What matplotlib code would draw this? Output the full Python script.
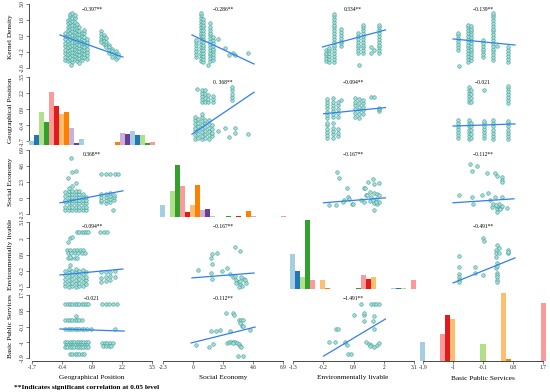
import matplotlib
matplotlib.use("Agg")
import matplotlib.pyplot as plt

plt.rcParams['font.family'] = ['Liberation Serif', 'DejaVu Serif']

# variable names (rows: y, columns: x)
row_names = ['Kernel Density', 'Geographical Position', 'Social Economy',
             'Environmentally livable', 'Basic Public Services']
col_names = ['Geographical Position', 'Social Economy',
             'Environmentally livable', 'Basic Public Services']

# axis ranges and ticks
col_lims = [(-1.83, 3.63), (-2.53, 7.13), (-1.41, 3.17), (-1.99, 1.79)]
col_ticks = [[-1.7, -0.4, 0.9, 2.2, 3.5], [-2.3, 0, 2.3, 4.6, 6.9],
             [-1.3, -0.2, 0.9, 2, 3.1], [-1.9, -1, -0.1, 0.8, 1.7]]
col_ticklabels = [['-1.7', '-0.4', '0.9', '2.2', '3.5'], ['-2.3', '0', '2.3', '4.6', '6.9'],
                  ['-1.3', '-0.2', '0.9', '2', '3.1'], ['-1.9', '-1', '-0.1', '0.8', '1.7']]
row_lims = [(-2.95, 3.17), (-2.0, 3.65), (-2.7, 7.3), (-1.43, 3.3), (-2.07, 1.93)]
row_ticks = [[-2.6, -1.2, 0.2, 1.6, 3.0], [-1.7, -0.4, 0.9, 2.2, 3.5], [-2.3, 0, 2.3, 4.6, 6.9],
             [-1.3, -0.2, 0.9, 2, 3.1], [-1.9, -1, -0.1, 0.8, 1.7]]
row_ticklabels = [['-2.6', '-1.2', '0.2', '1.6', '3.0'], ['-1.7', '-0.4', '0.9', '2.2', '3.5'],
                  ['-2.3', '0', '2.3', '4.6', '6.9'], ['-1.3', '-0.2', '0.9', '2', '3.1'],
                  ['-1.9', '-1', '-0.1', '0.8', '1.7']]

# histogram counts on the diagonal (25 bins across each column range)
geo_counts = [4, 10, 33, 23, 53, 39, 31, 33, 17, 2, 6, 0, 0, 0, 0, 0, 0, 3, 12, 11, 14, 10, 10, 2, 3]
soc_counts = [12, 0, 26, 52, 31, 5, 12, 32, 7, 8, 1, 0, 0, 1, 0, 1, 0, 6, 1, 0, 0, 0, 0, 0, 1]
env_counts = [35, 18, 12, 69, 9, 0, 9, 1, 0, 0, 0, 0, 0, 1, 14, 10, 12, 0, 0, 0, 1, 1, 1, 0, 9]
bps_counts = [19, 0, 0, 0, 27, 46, 42, 0, 0, 0, 0, 0, 17, 0, 0, 0, 68, 2, 0, 0, 0, 0, 0, 0, 58]
hist_counts = [geo_counts, soc_counts, env_counts, bps_counts]
paired10 = ['#a6cee3', '#1f78b4', '#b2df8a', '#33a02c', '#fb9a99',
            '#e31a1c', '#fdbf6f', '#ff7f00', '#cab2d6', '#6a3d9a']

# scatter groups: (x, [ys]) vertical runs, ([xs], y) horizontal runs, or (x, y)
kd_geo = [(-0.25, [-1.9, -1.6, -1.3, -1.0, -0.7, -0.4, -0.1, 0.2, 0.5]),
          (-0.15, [-2.0, -1.7, -1.4, -1.1, -0.8, -0.5, -0.2, 0.1, 0.4, 0.7, 1.0, 1.3, 1.6]),
          (-0.05, [-1.9, -1.6, -1.3, -1.0, -0.7, -0.4, -0.1, 0.2, 0.5, 0.8, 1.1, 1.4, 1.7, 1.95, 2.1]),
          (0.05, [-2.1, -1.8, -1.5, -1.2, -0.9, -0.6, -0.3, 0.0, 0.3, 0.6, 0.9, 1.2, 1.5, 1.8, 2.2]),
          (0.15, [-1.85, -1.55, -1.25, -0.95, -0.65, -0.35, -0.05, 0.25, 0.55, 0.85, 1.15, 1.45, 1.75, 2.0]),
          (0.25, [-2.0, -1.7, -1.4, -1.1, -0.8, -0.5, -0.2, 0.1, 0.4, 0.7, 1.0, 1.25]),
          (0.35, [-1.75, -1.45, -1.15, -0.85, -0.55, -0.25, 0.05, 0.35, 0.65, 0.95]),
          (0.45, [-1.9, -1.6, -1.3, -1.0, -0.7, -0.4, -0.1, 0.2, 0.5]),
          (0.57, [-1.65, -1.35, -1.05, -0.75, -0.45, -0.15, 0.15, 0.45, 0.7]),
          (0.68, [-1.8, -1.5, -1.2, -0.9, -0.6, -0.3, -0.05]),
          (1.28, [0.6, 0.35, 0.1, -0.15, -0.35]), (1.4, [0.3, 0.05, -0.25, -0.5]),
          (1.52, [0.0, -0.3, -0.55, -0.8]), (1.64, [-0.55, -0.8, -1.05, -1.25]),
          (1.78, [-0.9, -1.15, -1.4, -1.65]), (1.92, [-1.15, -1.4, -1.6, -1.8]),
          (2.02, [-1.4, -1.6]), (0.0, -2.35), (0.35, -2.2)]
kd_soc = [(0.23, [-1.6, -1.35, -1.1, -0.85, -0.6, -0.35, -0.15]),
          (0.62, [-2.0, -1.75, -1.5, -1.25, -1.0, -0.75, -0.5, -0.25, 0.0, 0.25, 0.5, 0.75, 1.0, 1.25, 1.5, 1.75, 2.0, 2.2]),
          (0.8, [-2.05, -1.8, -1.55, -1.3, -1.05, -0.8, -0.55, -0.3, -0.05, 0.2, 0.45, 0.7, 0.95, 1.2, 1.45, 1.7]),
          (1.3, [-2.0, -1.75, -1.5, -1.25, -1.0, -0.75, -0.5, -0.25, 0.0, 0.25, 0.5, 0.75, 1.0, 1.3]),
          (1.5, [-1.9, -1.65, -1.4, -1.15, -0.9, -0.65, -0.4, -0.15, 0.1]),
          (1.15, -2.35), (1.92, -0.06), (2.45, -0.85), (2.76, -1.46),
          (3.05, -1.29), (3.2, -1.46), (4.22, -1.29)]
kd_env = [(-0.1, [-2.0, -1.75, -1.5, -1.25, -1.0]), (0.02, [-2.05, -1.8, -1.55, -1.3, -1.05, -0.85]),
          (0.2, [-2.05, -1.8, -1.55, -1.3, -1.05, -0.8, -0.55, -0.3, -0.05, 0.2, 0.45, 0.7, 0.95, 1.2, 1.45, 1.7, 1.95, 2.15]),
          (0.44, [-0.7, -0.45, -0.2, 0.05, 0.3, 0.55, 0.8]),
          (1.05, [-1.3, -1.05, -0.8, -0.55, -0.3, -0.05, 0.2, 0.45]),
          (1.25, [-1.3, -1.05, -0.8, -0.55, -0.3, -0.05, 0.2, 0.45, 0.7, 0.95, 1.15]),
          (1.55, [-0.8, -1.25]), (1.65, -1.05),
          (1.84, [-1.3, -1.05, -0.8, -0.55, -0.3, -0.05, 0.2, 0.45, 0.7, 0.95, 1.15]),
          (1.1, -2.35)]
kd_bps = [(-0.85, [-1.0, -0.75, -0.5, -0.25, 0.0, 0.25, 0.45]), (-0.82, -2.4),
          (-0.55, [-2.05, -1.8, -1.55, -1.3, -1.05, -0.8, -0.55, -0.3, -0.05, 0.2, 0.45, 0.7, 0.95, 1.15]),
          (-0.45, [-1.9, -1.65, -1.4, -1.15, -0.9, -0.65, -0.4, -0.15, 0.1, 0.35, 0.6, 0.85, 1.1]),
          (-0.1, [-1.65, -1.4, -1.15, -0.9, -0.65, -0.4, -0.15]),
          (0.2, [-1.9, -1.65, -1.4, -1.15, -0.9, -0.65, -0.4, -0.15, 0.1, 0.35, 0.6, 0.85, 1.1, 1.35, 1.6, 1.85, 2.05, 2.2]),
          (0.33, -0.7),
          (0.65, [-2.05, -1.8, -1.55, -1.3, -1.05, -0.8])]
geo_soc = [(0.31, 2.51), (0.69, [1.45, 1.7, 1.95, 2.2, 2.43]), (0.9, [1.5, 1.8, 2.1, 2.4]),
           (1.15, [1.45, 1.75, 2.05]), (1.5, [1.45, 1.7, 1.95]),
           (2.99, [1.6, 1.85, 2.1, 2.4, 2.67]),
           (0.15, [-1.5, -1.2, -0.9, -0.6, -0.3, 0.0, 0.3]),
           (0.4, [-1.4, -1.1, -0.8, -0.5, -0.2, 0.1]),
           (0.7, [-1.55, -1.25, -0.95, -0.65, -0.35, -0.05, 0.25, 0.5]),
           (0.95, [-1.45, -1.15, -0.85, -0.55, -0.25, 0.05]),
           (1.2, [-1.5, -1.2, -0.9, -0.6, -0.3, 0.0]),
           (1.45, [-1.3, -1.0, -0.7, -0.4]),
           (1.9, -0.9), (2.45, -0.63), (3.22, -0.63), (2.76, -1.38), (3.22, -1.0), (4.22, -1.13)]
geo_env = [(-0.05, [-1.45, -1.2, -0.95, -0.7, -0.4, -0.2, 0.2, 0.45, 0.7, 0.95, 1.2, 1.45, 1.75]),
           (0.15, [-1.4, -1.15, -0.9, -0.6, -0.25, 0.25, 0.5, 0.75, 1.0, 1.25, 1.5, 1.76]),
           (0.33, [-1.3, -1.0, -0.7, 0.3, 0.6, 0.9, 1.2, 1.5]), (0.44, 1.6),
           (0.95, [0.3, 0.6, 0.9, 1.2, 1.5, 1.76]), (1.1, [0.2, 0.5, 0.8, 1.1, 1.4, 1.7]),
           (1.25, [0.52, 0.8, 1.1, 1.4, 1.6]), (1.55, 1.85), (1.65, 1.85),
           (1.84, [0.77, 0.94, 1.02])]
geo_bps = [(-0.52, [1.45, 1.7, 1.95, 2.2, 2.45, 2.67]), (-0.45, [1.5, 1.8, 2.1, 2.4]), (-0.07, 2.43),
           (0.65, [1.35, 1.6, 1.85, 2.1, 2.35, 2.6, 2.76]),
           (-0.85, [-1.45, -1.2, -0.95, -0.7, -0.45, -0.2, 0.0]),
           (-0.52, [-1.5, -1.25, -1.0, -0.75, -0.5, -0.25, 0.0]),
           (-0.45, [-1.4, -1.1, -0.8, -0.5, -0.2]),
           (-0.07, [-1.45, -1.2, -0.95, -0.7, -0.45, -0.2, -0.05]),
           (0.2, [-1.5, -1.25, -1.0, -0.75, -0.5, -0.25, 0.0]),
           (0.65, [-1.5, -1.25, -1.0, -0.75, -0.5, -0.25, -0.05])]
soc_geo = [(-0.01, 5.76), (0.03, 3.76), (0.21, 3.9), (-0.14, 2.9), (0.21, 2.19),
           (-0.25, [-1.75, -1.2, -0.6, -0.2, 0.3, 0.9]),
           (-0.1, [-1.75, -1.3, -0.7, -0.25, 0.2, 0.6, 1.0, 1.5]),
           (0.05, [-1.75, -1.25, -0.75, -0.3, 0.15, 0.55, 1.0, 1.7]),
           (0.2, [-1.75, -1.3, -0.7, -0.25, 0.2, 0.6, 1.05]),
           (0.35, [-1.75, -1.25, -0.7, -0.3, 0.15, 0.55, 0.95]),
           (0.5, [-1.75, -1.3, -0.75, -0.25, 0.2, 0.6]),
           (0.65, [-1.75, -1.2, -0.7, -0.25, 0.15]),
           ([1.3, 1.5, 1.7, 1.9, 2.03], 3.47),
           (1.3, [-0.6, -0.2, 0.2, 0.6]), (1.5, [-0.65, -0.25, 0.15, 0.55]),
           (1.7, [-0.5, -0.1, 0.3, 0.7]), (1.85, [-0.3, 0.1, 0.5]), (1.81, -1.67)]
soc_env = [(0.29, 3.76), (0.36, 2.9), (0.66, 1.47), (0.7, 0.19), (0.73, -0.1), (0.84, -0.81),
           (0.88, -0.81), (0.25, -0.96), (-0.01, -0.96), (1.44, 2.33), (1.29, 1.47), (1.36, 0.47),
           (1.29, -0.53), (1.62, 2.76), (1.66, 2.04), (1.84, 2.19), (1.32, 1.47), (1.4, 0.47),
           (1.51, 0.9), (1.66, 0.76), (1.77, 0.61), (1.84, 0.47), (1.18, -0.24), (1.55, 0.19),
           (1.73, -0.1), (1.66, -0.67), (1.77, -0.81), (1.84, -0.53), (1.66, -1.67), (0.55, -0.3),
           (0.5, -0.6), (1.5, -0.4), (1.6, -0.2), (1.7, -0.5)]
soc_bps = [(-0.49, 4.9), (-0.28, 4.61), (-0.43, 3.9), (0.02, 3.61), (0.26, 3.61), (0.32, 3.19),
           (0.47, 3.04), (0.47, 2.6), (0.47, 2.33), (-0.82, 0.47), (-0.43, 0.19), (-0.13, 0.47),
           (0.05, 0.76), (0.26, 0.19), (0.47, 0.19), (-0.4, -0.81), (0.11, -0.24), (0.17, -1.24),
           (0.2, -0.81), (0.32, -1.24), (0.32, -1.6), (0.32, -1.96), (0.35, -1.1), (0.4, -1.39),
           (0.44, -1.2), (0.47, -1.1), (0.62, -1.39), (0.38, -0.9), (0.28, -1.0), (0.42, -1.5)]
env_geo = [([0.25, 0.35, 0.45, 0.55, 0.65, 0.73], 2.42), ([1.25, 1.4, 1.55], 2.42),
           (-0.14, 1.75), (-0.05, 2.02), (0.03, 2.08),
           ([-0.18, -0.05, 0.1, 0.25, 0.4, 0.51], 1.21), ([-0.15, 0.0, 0.15, 0.3, 0.45, 0.6], 1.01),
           ([-0.14, 0.0, 0.15, 0.25], 0.67), (-0.05, 0.74), (-0.05, 0.19),
           (-0.25, [-1.25, -1.0, -0.75, -0.5, -0.2]), (-0.1, [-1.3, -1.05, -0.8, -0.55, -0.3, -0.1]),
           (0.05, [-1.25, -1.0, -0.75, -0.5, -0.2]), (0.2, [-1.3, -1.05, -0.8, -0.55, -0.3, -0.1]),
           (0.35, [-1.25, -1.0, -0.75, -0.5, -0.2]), (0.5, [-1.2, -0.95, -0.7, -0.45, -0.15]),
           (0.65, [-1.1, -0.85, -0.6, -0.25]),
           (1.3, [-0.95, -0.7, -0.3]), (1.5, [-0.9, -0.6, -0.28]),
           (1.7, [-0.85, -0.55, -0.25]), (1.88, [-0.6, -0.2])]
env_soc = [(3.22, 1.41), (3.6, 1.14), (1.38, 0.67), (1.84, 1.01), (1.46, 0.94), (1.46, 0.26),
           (2.61, -0.01), (0.38, -0.14), (1.38, -0.35), (2.22, -0.21), (2.84, -0.41), (3.1, -0.62),
           (3.3, -0.8), (3.45, -0.95), (3.6, -1.1), (3.75, -1.25), (3.6, -0.9), (3.9, -0.75),
           (3.99, -0.85), (3.3, -1.05), (3.5, -1.29), (1.46, -0.75), (4.07, -1.02), (3.2, -0.55),
           (3.7, -0.65)]
env_bps = [(-0.1, 2.02), (-0.07, 1.82), (0.32, 1.55), (0.29, 1.21), (0.38, 1.34), (0.65, 1.21),
           (0.65, 1.01), (-0.82, [0.8, 0.06, -0.41, -0.6, -0.8, -0.95]), (-0.34, 0.06), (-0.34, -0.35),
           (-0.1, -0.48), (0.29, [1.01, 0.74, -0.01]), (0.32, [0.33, 0.15, -0.35, -0.5, -0.65, -0.8, -0.95]),
           (0.38, 1.0), (0.65, 1.05)]
bps_geo = [([-0.27, -0.15, -0.05, 0.05, 0.15, 0.25, 0.35, 0.45, 0.55, 0.65, 0.73], 1.19),
           ([1.33, 1.5, 1.65, 1.8, 2.0], 1.19), (0.21, 0.5),
           ([-0.27, -0.15, -0.05, 0.05, 0.15, 0.25, 0.35, 0.45], 0.27),
           ([-0.27, -0.15, -0.05, 0.05, 0.15, 0.25, 0.35, 0.45, 0.55, 0.7, 0.85], -0.24), (1.9, -0.24),
           ([-0.27, -0.17, -0.07, 0.03, 0.13, 0.23, 0.33, 0.43, 0.53, 0.63, 0.73], -1.0),
           ([-0.22, -0.12, -0.02, 0.08, 0.18, 0.28, 0.38, 0.48, 0.58, 0.68], -1.14),
           ([-0.27, -0.17, -0.07, 0.03, 0.13, 0.23, 0.33, 0.43, 0.53, 0.63, 0.73], -1.27),
           ([1.33, 1.45, 1.57, 1.69, 1.8], -1.04), ([1.38, 1.5, 1.62, 1.74], -1.2),
           ([-0.05, 0.05, 0.15, 0.25, 0.35, 0.45, 0.55], -1.67)]
bps_soc = [(2.53, 0.67), (3.07, 0.67), (3.14, 0.56), (3.53, 0.27), (3.68, 0.27), (3.83, 0.27),
           (3.6, 0.1), (3.76, -0.07), (3.83, -0.07), (1.38, -0.36), (1.76, -0.36), (2.07, -0.3),
           (2.84, -0.36), (4.37, -0.3), (0.23, -1.16), (1.23, -1.27), (1.53, -1.1), (2.61, -1.04),
           (2.75, -1.0), (2.9, -0.98), (3.05, -0.98), (3.2, -1.0), (3.35, -1.04), (3.5, -1.1),
           (3.6, -1.2), (3.7, -1.27), (3.45, -1.79), (3.83, -1.79), (3.1, -1.05)]
bps_env = [(0.25, -0.24), (0.33, -0.24), (0.92, 0.56), (1.29, 0.56), (1.29, 0.21), (-0.01, -0.99),
           (0.22, -0.99), (0.59, -0.99), (0.66, -1.16), (0.7, -1.67), (0.81, -1.67), (1.18, 1.19),
           (1.55, 1.19), (1.65, 1.19), (1.73, 1.19), (1.84, 1.19), (1.29, 0.67), (1.62, 0.21),
           (1.66, 0.5), (1.66, -0.24), (1.36, -1.0), (1.45, -1.1), (1.55, -1.16), (1.66, -1.27),
           (1.75, -1.16), (1.84, -1.05), (1.5, -1.2)]

# fitted lines: ([x0, x1], [y0, y1])
fit_lines = {
    (0, 0): ([-0.49, 2.24], [0.29, -1.64]), (0, 1): ([-0.08, 4.68], [0.29, -2.25]),
    (0, 2): ([-0.23, 2.06], [-0.76, 0.73]), (0, 3): ([-1.0, 0.86], [-0.06, -0.59]),
    (1, 1): ([-0.08, 4.68], [-1.13, 2.26]), (1, 2): ([-0.19, 2.06], [0.52, 1.02]),
    (1, 3): ([-1.0, 0.86], [-0.47, -0.3]),
    (2, 0): ([-0.49, 2.24], [-0.67, 1.04]), (2, 2): ([-0.19, 2.06], [-0.67, 0.04]),
    (2, 3): ([-1.0, 0.83], [-0.67, -0.1]),
    (3, 0): ([-0.49, 2.24], [-0.48, -0.08]), (3, 1): ([-0.08, 4.68], [-0.68, -0.35]),
    (3, 3): ([-1.0, 0.86], [-1.02, 0.67]),
    (4, 0): ([-0.49, 2.29], [-0.24, -0.36]), (4, 1): ([-0.15, 4.76], [-1.04, -0.13]),
    (4, 2): ([-0.19, 2.06], [-1.79, 0.33]),
}
scatter_sets = {
    (0, 0): kd_geo, (0, 1): kd_soc, (0, 2): kd_env, (0, 3): kd_bps,
    (1, 1): geo_soc, (1, 2): geo_env, (1, 3): geo_bps,
    (2, 0): soc_geo, (2, 2): soc_env, (2, 3): soc_bps,
    (3, 0): env_geo, (3, 1): env_soc, (3, 3): env_bps,
    (4, 0): bps_geo, (4, 1): bps_soc, (4, 2): bps_env,
}
corr_text = {
    (0, 0): '\u22120.397**', (0, 1): '\u22120.286**', (0, 2): '0.334**', (0, 3): '\u22120.139**',
    (1, 1): '0. 368**', (1, 2): '\u22120.094**', (1, 3): '\u22120.021',
    (2, 0): '0.368**', (2, 2): '\u22120.167**', (2, 3): '\u22120.112**',
    (3, 0): '\u22120.094**', (3, 1): '\u22120.167**', (3, 3): '\u22120.491**',
    (4, 0): '\u22120.021', (4, 1): '\u22120.112**', (4, 2): '\u22121.491**',
}


def expand(groups):
    xs, ys = [], []
    for a, b in groups:
        if isinstance(a, list):
            xs += a
            ys += [b] * len(a)
        elif isinstance(b, list):
            xs += [a] * len(b)
            ys += b
        else:
            xs.append(a)
            ys.append(b)
    return xs, ys


W, H = 550, 392
fig = plt.figure(figsize=(W / 100, H / 100), dpi=100)

col_left = [29, 160, 290, 420]
row_top = [2, 75, 147, 219, 291]
cell_w, cell_h = 126, 70

for r in range(5):
    for c in range(4):
        L, T = col_left[c], row_top[r]
        ax = fig.add_axes([L / W, 1 - (T + cell_h) / H, cell_w / W, cell_h / H])
        ax.set_xlim(col_lims[c])
        ax.set_ylim(row_lims[r])
        for s in ax.spines.values():
            s.set_visible(False)
        ax.tick_params(length=2, width=0.4, labelsize=4, pad=1, colors='#222222')

        if c == 0:
            ax.spines['left'].set_visible(True)
            ax.spines['left'].set_linewidth(0.5)
            ax.spines['left'].set_bounds(row_ticks[r][0], row_ticks[r][-1])
            ax.set_yticks(row_ticks[r])
            ax.set_yticklabels(row_ticklabels[r], rotation=90, va='center')
        else:
            ax.set_yticks([])
        if r == 4:
            ax.spines['bottom'].set_visible(True)
            ax.spines['bottom'].set_linewidth(0.5)
            ax.spines['bottom'].set_bounds(col_ticks[c][0], col_ticks[c][-1])
            ax.set_xticks(col_ticks[c])
            ax.set_xticklabels(col_ticklabels[c])
        else:
            ax.set_xticks([])

        if r >= 1 and c == r - 1:
            # diagonal: histogram of the variable
            counts = hist_counts[c]
            lo, hi = col_lims[c]
            bw = (hi - lo) / len(counts)
            lefts = [lo + i * bw for i in range(len(counts))]
            colors = [paired10[i % 10] for i in range(len(counts))]
            hax = ax.twinx()
            hax.set_ylim(0, 70)
            hax.axis('off')
            hax.bar(lefts, counts, width=bw, align='edge', color=colors, linewidth=0)
            continue

        xs, ys = expand(scatter_sets[(r, c)])
        ax.scatter(xs, ys, s=6.5, facecolor='#a9ded9', edgecolor='#3a9e96',
                   linewidths=0.4, zorder=2)
        fx, fy = fit_lines[(r, c)]
        ax.plot(fx, fy, color='#2f7ff0', lw=0.9, zorder=3)
        ax.text(0.5, 0.89, corr_text[(r, c)], transform=ax.transAxes,
                ha='center', va='center', fontsize=4)

# axis titles
for r, name in enumerate(row_names):
    yc = 1 - (row_top[r] + cell_h / 2) / H
    fig.text(11 / W, yc, name, rotation=90, ha='center', va='center', fontsize=5.2)
for c, name in enumerate(col_names):
    xc = (col_left[c] + cell_w / 2) / W
    fig.text(xc, 1 - 378 / H, name, ha='center', va='center', fontsize=5.2)

fig.text(14 / W, 1 - 387 / H, '**Indicates significant correlation at 0.05 level',
         ha='left', va='center', fontsize=5.3, fontweight='bold')

fig.savefig('out.png', dpi=100)
